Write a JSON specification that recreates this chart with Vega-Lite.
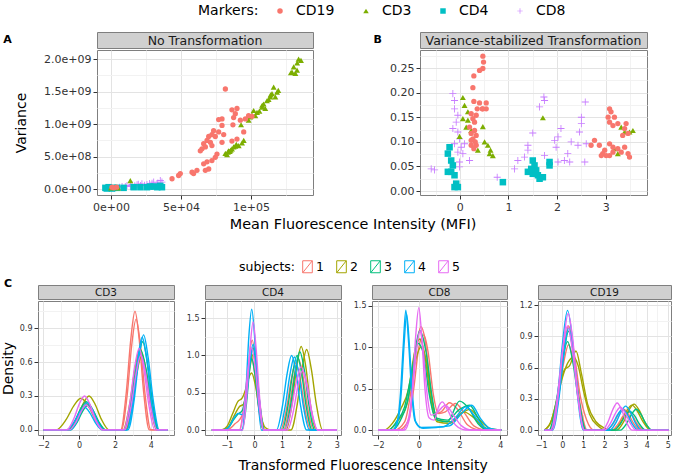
{
"$schema": "https://vega.github.io/schema/vega-lite/v6.json",
"padding": {"left": 0, "top": 4, "right": 0, "bottom": 0},
"config": {
  "font": "DejaVu Sans",
  "view": {"stroke": "#7F7F7F"},
  "axis": {"domain": false, "gridColor": "#E3E3E3", "tickColor": "#333333", "tickSize": 4, "labelColor": "#333333", "labelFontSize": 11, "labelPadding": 2, "labelOverlap": false, "titleFontWeight": "normal", "titleColor": "#000000", "titleFontSize": 14},
  "legend": {"titleFontWeight": "normal", "titleColor": "#000000", "labelColor": "#000000"},
  "title": {"fontWeight": "normal", "color": "#000000"}
},
"datasets": {
"sa": [
{"m":"CD8","x":7900,"y":4.0e7},{"m":"CD8","x":11400,"y":5.6e7},{"m":"CD8","x":15000,"y":7.2e7},{"m":"CD8","x":18600,"y":6.7e7},{"m":"CD8","x":22100,"y":8.2e7},{"m":"CD8","x":25700,"y":7.2e7},{"m":"CD8","x":29300,"y":9.2e7},{"m":"CD8","x":32900,"y":8.2e7},{"m":"CD8","x":35200,"y":1.33e8},{"m":"CD8","x":36400,"y":1.08e8},{"m":"CD8","x":30500,"y":1.08e8},{"m":"CD8","x":21000,"y":5.6e7},{"m":"CD8","x":13800,"y":4.0e7},{"m":"CD8","x":10200,"y":4.0e7},{"m":"CD8","x":6000,"y":3.0e7},{"m":"CD8","x":17000,"y":5.0e7},{"m":"CD8","x":24000,"y":6.0e7},{"m":"CD8","x":27500,"y":8.5e7},{"m":"CD8","x":33500,"y":9.5e7},{"m":"CD8","x":19500,"y":7.5e7},
{"m":"CD4","x":-4000,"y":2.0e7},{"m":"CD4","x":-1700,"y":3.0e7},{"m":"CD4","x":700,"y":1.0e7},{"m":"CD4","x":4300,"y":2.0e7},{"m":"CD4","x":9000,"y":2.0e7},{"m":"CD4","x":16200,"y":3.0e7},{"m":"CD4","x":21000,"y":3.0e7},{"m":"CD4","x":25700,"y":3.0e7},{"m":"CD4","x":30500,"y":4.0e7},{"m":"CD4","x":35200,"y":5.0e7},{"m":"CD4","x":36400,"y":3.0e7},{"m":"CD4","x":-3000,"y":1.0e7},{"m":"CD4","x":1500,"y":2.0e7},{"m":"CD4","x":28000,"y":4.0e7},{"m":"CD4","x":33000,"y":3.0e7},
{"m":"CD3","x":134000,"y":2.0e9},{"m":"CD3","x":135700,"y":1.98e9},{"m":"CD3","x":130500,"y":1.88e9},{"m":"CD3","x":132900,"y":1.83e9},{"m":"CD3","x":129300,"y":1.80e9},{"m":"CD3","x":131700,"y":1.78e9},{"m":"CD3","x":133000,"y":1.94e9},{"m":"CD3","x":128500,"y":1.79e9},
{"m":"CD3","x":116200,"y":1.57e9},{"m":"CD3","x":118600,"y":1.49e9},{"m":"CD3","x":115000,"y":1.47e9},{"m":"CD3","x":113800,"y":1.42e9},{"m":"CD3","x":111400,"y":1.36e9},{"m":"CD3","x":109000,"y":1.31e9},{"m":"CD3","x":107900,"y":1.26e9},{"m":"CD3","x":104300,"y":1.18e9},{"m":"CD3","x":101900,"y":1.21e9},{"m":"CD3","x":103100,"y":1.13e9},{"m":"CD3","x":99500,"y":1.11e9},{"m":"CD3","x":98300,"y":1.06e9},{"m":"CD3","x":92900,"y":0.99e9},{"m":"CD3","x":110200,"y":1.24e9},{"m":"CD3","x":117400,"y":1.42e9},{"m":"CD3","x":106000,"y":1.2e9},{"m":"CD3","x":112600,"y":1.38e9},{"m":"CD3","x":114000,"y":1.45e9},{"m":"CD3","x":119500,"y":1.52e9},{"m":"CD3","x":100700,"y":1.14e9},{"m":"CD3","x":108000,"y":1.29e9},
{"m":"CD3","x":81700,"y":0.55e9},{"m":"CD3","x":84000,"y":0.59e9},{"m":"CD3","x":86400,"y":0.62e9},{"m":"CD3","x":88800,"y":0.66e9},{"m":"CD3","x":91200,"y":0.67e9},{"m":"CD3","x":93600,"y":0.71e9},{"m":"CD3","x":94800,"y":0.75e9},{"m":"CD3","x":84800,"y":0.58e9},{"m":"CD3","x":87600,"y":0.65e9},{"m":"CD3","x":82900,"y":0.53e9},{"m":"CD3","x":89500,"y":0.69e9},{"m":"CD3","x":85500,"y":0.6e9},{"m":"CD3","x":83500,"y":0.57e9},
{"m":"CD3","x":13800,"y":1.3e8},{"m":"CD3","x":0,"y":2.0e7},{"m":"CD3","x":3000,"y":3.0e7},{"m":"CD3","x":5000,"y":2.0e7},
{"m":"CD19","x":81700,"y":1.54e9},{"m":"CD19","x":86400,"y":1.22e9},{"m":"CD19","x":90000,"y":1.24e9},{"m":"CD19","x":88800,"y":1.16e9},{"m":"CD19","x":92400,"y":1.06e9},{"m":"CD19","x":87600,"y":1.10e9},{"m":"CD19","x":79300,"y":1.08e9},{"m":"CD19","x":76900,"y":1.07e9},{"m":"CD19","x":87100,"y":0.99e9},{"m":"CD19","x":79300,"y":0.98e9},{"m":"CD19","x":73300,"y":0.90e9},{"m":"CD19","x":72100,"y":0.84e9},{"m":"CD19","x":69800,"y":0.81e9},{"m":"CD19","x":74500,"y":0.81e9},{"m":"CD19","x":68600,"y":0.75e9},{"m":"CD19","x":71000,"y":0.72e9},{"m":"CD19","x":66200,"y":0.70e9},{"m":"CD19","x":67400,"y":0.65e9},{"m":"CD19","x":72100,"y":0.67e9},{"m":"CD19","x":65000,"y":0.62e9},{"m":"CD19","x":63800,"y":0.59e9},{"m":"CD19","x":79300,"y":0.72e9},{"m":"CD19","x":80500,"y":0.84e9},{"m":"CD19","x":90000,"y":0.77e9},{"m":"CD19","x":94800,"y":0.88e9},{"m":"CD19","x":86400,"y":0.74e9},{"m":"CD19","x":75700,"y":0.54e9},{"m":"CD19","x":74500,"y":0.49e9},{"m":"CD19","x":72100,"y":0.44e9},{"m":"CD19","x":68600,"y":0.42e9},{"m":"CD19","x":66200,"y":0.39e9},{"m":"CD19","x":69800,"y":0.31e9},{"m":"CD19","x":67400,"y":0.29e9},{"m":"CD19","x":61400,"y":0.29e9},{"m":"CD19","x":59000,"y":0.24e9},{"m":"CD19","x":57900,"y":0.26e9},{"m":"CD19","x":49500,"y":0.24e9},{"m":"CD19","x":48300,"y":0.21e9},{"m":"CD19","x":43600,"y":0.16e9},{"m":"CD19","x":96000,"y":1.08e9},{"m":"CD19","x":98300,"y":1.13e9},{"m":"CD19","x":100700,"y":1.12e9},{"m":"CD19","x":76900,"y":0.88e9},{"m":"CD19","x":700,"y":3.0e7},{"m":"CD19","x":2000,"y":2.0e7},{"m":"CD19","x":4000,"y":3.0e7}
],
"sb": [
{"m":"CD8","x":-0.59,"y":0.045},{"m":"CD8","x":-0.52,"y":0.043},{"m":"CD8","x":-0.144,"y":0.198},{"m":"CD8","x":-0.11,"y":0.184},{"m":"CD8","x":-0.11,"y":0.167},{"m":"CD8","x":-0.041,"y":0.154},{"m":"CD8","x":-0.075,"y":0.14},{"m":"CD8","x":-0.144,"y":0.127},{"m":"CD8","x":-0.041,"y":0.12},{"m":"CD8","x":-0.007,"y":0.106},{"m":"CD8","x":-0.11,"y":0.096},{"m":"CD8","x":0.028,"y":0.089},{"m":"CD8","x":-0.041,"y":0.079},{"m":"CD8","x":0.062,"y":0.076},{"m":"CD8","x":0.199,"y":0.062},{"m":"CD8","x":-0.007,"y":0.059},{"m":"CD8","x":-0.007,"y":0.049},{"m":"CD8","x":0.096,"y":0.096},{"m":"CD8","x":1.729,"y":0.191},{"m":"CD8","x":1.742,"y":0.184},{"m":"CD8","x":1.64,"y":0.171},{"m":"CD8","x":1.5,"y":0.118},{"m":"CD8","x":0.768,"y":0.028},{"m":"CD8","x":1.125,"y":0.045},{"m":"CD8","x":1.193,"y":0.062},{"m":"CD8","x":1.4,"y":0.093},{"m":"CD8","x":1.4,"y":0.083},{"m":"CD8","x":1.742,"y":0.072},{"m":"CD8","x":1.95,"y":0.103},{"m":"CD8","x":2.02,"y":0.11},{"m":"CD8","x":2.08,"y":0.127},{"m":"CD8","x":1.98,"y":0.089},{"m":"CD8","x":2.22,"y":0.076},{"m":"CD8","x":2.29,"y":0.1},{"m":"CD8","x":2.43,"y":0.093},{"m":"CD8","x":2.46,"y":0.12},{"m":"CD8","x":2.5,"y":0.137},{"m":"CD8","x":2.5,"y":0.15},{"m":"CD8","x":2.58,"y":0.181},{"m":"CD8","x":2.57,"y":0.059},{"m":"CD8","x":2.6,"y":0.096},{"m":"CD8","x":2.26,"y":0.059},{"m":"CD8","x":2.15,"y":0.062},{"m":"CD8","x":2.02,"y":0.059},{"m":"CD8","x":1.33,"y":0.069},
{"m":"CD4","x":-0.212,"y":0.089},{"m":"CD4","x":-0.247,"y":0.076},{"m":"CD4","x":-0.178,"y":0.062},{"m":"CD4","x":-0.144,"y":0.052},{"m":"CD4","x":-0.178,"y":0.039},{"m":"CD4","x":-0.247,"y":0.039},{"m":"CD4","x":-0.11,"y":0.032},{"m":"CD4","x":-0.075,"y":0.015},{"m":"CD4","x":-0.11,"y":0.008},{"m":"CD4","x":-0.041,"y":0.008},{"m":"CD4","x":0.885,"y":0.018},{"m":"CD4","x":1.5,"y":0.062},{"m":"CD4","x":1.4,"y":0.039},{"m":"CD4","x":1.5,"y":0.035},{"m":"CD4","x":1.605,"y":0.032},{"m":"CD4","x":1.708,"y":0.028},{"m":"CD4","x":1.845,"y":0.052},{"m":"CD4","x":1.57,"y":0.042},{"m":"CD4","x":1.64,"y":0.025},{"m":"CD4","x":1.468,"y":0.045},{"m":"CD4","x":1.845,"y":0.059},{"m":"CD4","x":1.536,"y":0.052},
{"m":"CD3","x":0.062,"y":0.19},{"m":"CD3","x":0.096,"y":0.174},{"m":"CD3","x":0.165,"y":0.161},{"m":"CD3","x":0.062,"y":0.147},{"m":"CD3","x":0.165,"y":0.144},{"m":"CD3","x":0.131,"y":0.13},{"m":"CD3","x":-0.007,"y":0.111},{"m":"CD3","x":0.233,"y":0.123},{"m":"CD3","x":0.473,"y":0.131},{"m":"CD3","x":0.508,"y":0.1},{"m":"CD3","x":0.576,"y":0.093},{"m":"CD3","x":0.631,"y":0.083},{"m":"CD3","x":0.679,"y":0.072},{"m":"CD3","x":0.611,"y":0.076},{"m":"CD3","x":0.37,"y":0.083},{"m":"CD3","x":1.708,"y":0.149},{"m":"CD3","x":3.18,"y":0.086},{"m":"CD3","x":3.25,"y":0.076},{"m":"CD3","x":3.39,"y":0.12},{"m":"CD3","x":3.49,"y":0.12},{"m":"CD3","x":3.56,"y":0.123},{"m":"CD3","x":3.32,"y":0.13},
{"m":"CD19","x":0.473,"y":0.274},{"m":"CD19","x":0.487,"y":0.262},{"m":"CD19","x":0.473,"y":0.249},{"m":"CD19","x":0.405,"y":0.245},{"m":"CD19","x":0.288,"y":0.234},{"m":"CD19","x":0.268,"y":0.21},{"m":"CD19","x":0.288,"y":0.182},{"m":"CD19","x":0.405,"y":0.179},{"m":"CD19","x":0.542,"y":0.179},{"m":"CD19","x":0.542,"y":0.167},{"m":"CD19","x":0.46,"y":0.167},{"m":"CD19","x":0.357,"y":0.167},{"m":"CD19","x":0.233,"y":0.157},{"m":"CD19","x":0.336,"y":0.154},{"m":"CD19","x":0.268,"y":0.147},{"m":"CD19","x":0.302,"y":0.14},{"m":"CD19","x":0.199,"y":0.13},{"m":"CD19","x":0.302,"y":0.123},{"m":"CD19","x":0.233,"y":0.117},{"m":"CD19","x":0.336,"y":0.113},{"m":"CD19","x":0.268,"y":0.106},{"m":"CD19","x":0.316,"y":0.1},{"m":"CD19","x":0.233,"y":0.093},{"m":"CD19","x":0.288,"y":0.086},{"m":"CD19","x":0.233,"y":0.103},{"m":"CD19","x":0.336,"y":0.093},{"m":"CD19","x":0.473,"y":0.167},
{"m":"CD19","x":3.08,"y":0.167},{"m":"CD19","x":3.11,"y":0.161},{"m":"CD19","x":3.05,"y":0.15},{"m":"CD19","x":3.18,"y":0.15},{"m":"CD19","x":3.08,"y":0.14},{"m":"CD19","x":3.15,"y":0.133},{"m":"CD19","x":3.25,"y":0.137},{"m":"CD19","x":3.42,"y":0.137},{"m":"CD19","x":3.39,"y":0.127},{"m":"CD19","x":3.46,"y":0.117},{"m":"CD19","x":3.35,"y":0.113},{"m":"CD19","x":2.77,"y":0.103},{"m":"CD19","x":2.7,"y":0.093},{"m":"CD19","x":2.87,"y":0.093},{"m":"CD19","x":2.98,"y":0.083},{"m":"CD19","x":3.08,"y":0.096},{"m":"CD19","x":3.15,"y":0.089},{"m":"CD19","x":3.25,"y":0.086},{"m":"CD19","x":3.39,"y":0.089},{"m":"CD19","x":2.94,"y":0.076},{"m":"CD19","x":3.08,"y":0.072},{"m":"CD19","x":3.15,"y":0.079},{"m":"CD19","x":3.46,"y":0.076},{"m":"CD19","x":3.49,"y":0.069},{"m":"CD19","x":3.32,"y":0.079},{"m":"CD19","x":2.91,"y":0.072},{"m":"CD19","x":3.01,"y":0.072}
],
"d3": [
{"s":"1","c":"a","x":-2.0,"y":0},{"s":"1","c":"a","x":-0.6,"y":0},{"s":"1","c":"a","x":-0.22,"y":0.078},{"s":"1","c":"a","x":0.07,"y":0.181},{"s":"1","c":"a","x":0.35,"y":0.24},{"s":"1","c":"a","x":0.64,"y":0.181},{"s":"1","c":"a","x":0.92,"y":0.078},{"s":"1","c":"a","x":1.3,"y":0},{"s":"1","c":"a","x":2.32,"y":0},{"s":"1","c":"a","x":2.64,"y":0.341},{"s":"1","c":"a","x":2.88,"y":0.793},{"s":"1","c":"a","x":3.12,"y":1.05},{"s":"1","c":"a","x":3.36,"y":0.793},{"s":"1","c":"a","x":3.6,"y":0.341},{"s":"1","c":"a","x":3.92,"y":0},{"s":"1","c":"a","x":4.95,"y":0},
{"s":"1","c":"b","x":-2.0,"y":0},{"s":"1","c":"b","x":-0.55,"y":0},{"s":"1","c":"b","x":-0.15,"y":0.072},{"s":"1","c":"b","x":0.15,"y":0.166},{"s":"1","c":"b","x":0.45,"y":0.22},{"s":"1","c":"b","x":0.75,"y":0.166},{"s":"1","c":"b","x":1.05,"y":0.072},{"s":"1","c":"b","x":1.45,"y":0},{"s":"1","c":"b","x":2.36,"y":0},{"s":"1","c":"b","x":2.69,"y":0.319},{"s":"1","c":"b","x":2.93,"y":0.74},{"s":"1","c":"b","x":3.18,"y":0.98},{"s":"1","c":"b","x":3.43,"y":0.74},{"s":"1","c":"b","x":3.68,"y":0.319},{"s":"1","c":"b","x":4.01,"y":0},{"s":"1","c":"b","x":4.95,"y":0},
{"s":"2","c":"a","x":-2.0,"y":0},{"s":"2","c":"a","x":-1.28,"y":0},{"s":"2","c":"a","x":-0.73,"y":0.091},{"s":"2","c":"a","x":-0.31,"y":0.211},{"s":"2","c":"a","x":0.1,"y":0.28},{"s":"2","c":"a","x":0.51,"y":0.211},{"s":"2","c":"a","x":0.93,"y":0.091},{"s":"2","c":"a","x":1.48,"y":0},{"s":"2","c":"a","x":2.45,"y":0},{"s":"2","c":"a","x":2.83,"y":0.234},{"s":"2","c":"a","x":3.12,"y":0.544},{"s":"2","c":"a","x":3.4,"y":0.72},{"s":"2","c":"a","x":3.69,"y":0.544},{"s":"2","c":"a","x":3.97,"y":0.234},{"s":"2","c":"a","x":4.35,"y":0},{"s":"2","c":"a","x":4.95,"y":0},
{"s":"2","c":"b","x":-2.0,"y":0},{"s":"2","c":"b","x":-0.58,"y":0},{"s":"2","c":"b","x":-0.13,"y":0.098},{"s":"2","c":"b","x":0.21,"y":0.227},{"s":"2","c":"b","x":0.55,"y":0.3},{"s":"2","c":"b","x":0.89,"y":0.227},{"s":"2","c":"b","x":1.23,"y":0.098},{"s":"2","c":"b","x":1.68,"y":0},{"s":"2","c":"b","x":2.58,"y":0},{"s":"2","c":"b","x":2.95,"y":0.215},{"s":"2","c":"b","x":3.22,"y":0.498},{"s":"2","c":"b","x":3.5,"y":0.66},{"s":"2","c":"b","x":3.78,"y":0.498},{"s":"2","c":"b","x":4.06,"y":0.215},{"s":"2","c":"b","x":4.43,"y":0},{"s":"2","c":"b","x":4.95,"y":0},
{"s":"3","c":"a","x":-2.0,"y":0},{"s":"3","c":"a","x":-0.65,"y":0},{"s":"3","c":"a","x":-0.23,"y":0.081},{"s":"3","c":"a","x":0.09,"y":0.189},{"s":"3","c":"a","x":0.4,"y":0.25},{"s":"3","c":"a","x":0.72,"y":0.189},{"s":"3","c":"a","x":1.03,"y":0.081},{"s":"3","c":"a","x":1.45,"y":0},{"s":"3","c":"a","x":2.65,"y":0},{"s":"3","c":"a","x":3.01,"y":0.254},{"s":"3","c":"a","x":3.28,"y":0.589},{"s":"3","c":"a","x":3.55,"y":0.78},{"s":"3","c":"a","x":3.82,"y":0.589},{"s":"3","c":"a","x":4.09,"y":0.254},{"s":"3","c":"a","x":4.45,"y":0},{"s":"3","c":"a","x":4.95,"y":0},
{"s":"3","c":"b","x":-2.0,"y":0},{"s":"3","c":"b","x":-0.5,"y":0},{"s":"3","c":"b","x":-0.1,"y":0.072},{"s":"3","c":"b","x":0.2,"y":0.166},{"s":"3","c":"b","x":0.5,"y":0.22},{"s":"3","c":"b","x":0.8,"y":0.166},{"s":"3","c":"b","x":1.1,"y":0.072},{"s":"3","c":"b","x":1.5,"y":0},{"s":"3","c":"b","x":2.5,"y":0},{"s":"3","c":"b","x":2.88,"y":0.228},{"s":"3","c":"b","x":3.17,"y":0.529},{"s":"3","c":"b","x":3.45,"y":0.7},{"s":"3","c":"b","x":3.74,"y":0.529},{"s":"3","c":"b","x":4.02,"y":0.228},{"s":"3","c":"b","x":4.4,"y":0},{"s":"3","c":"b","x":4.95,"y":0},
{"s":"4","c":"a","x":-2.0,"y":0},{"s":"4","c":"a","x":-0.5,"y":0},{"s":"4","c":"a","x":-0.12,"y":0.078},{"s":"4","c":"a","x":0.17,"y":0.181},{"s":"4","c":"a","x":0.45,"y":0.24},{"s":"4","c":"a","x":0.74,"y":0.181},{"s":"4","c":"a","x":1.02,"y":0.078},{"s":"4","c":"a","x":1.4,"y":0},{"s":"4","c":"a","x":2.73,"y":0},{"s":"4","c":"a","x":3.08,"y":0.273},{"s":"4","c":"a","x":3.34,"y":0.634},{"s":"4","c":"a","x":3.6,"y":0.84},{"s":"4","c":"a","x":3.86,"y":0.634},{"s":"4","c":"a","x":4.13,"y":0.273},{"s":"4","c":"a","x":4.48,"y":0},{"s":"4","c":"a","x":4.95,"y":0},
{"s":"4","c":"b","x":-2.0,"y":0},{"s":"4","c":"b","x":-0.7,"y":0},{"s":"4","c":"b","x":-0.3,"y":0.065},{"s":"4","c":"b","x":0.0,"y":0.151},{"s":"4","c":"b","x":0.3,"y":0.2},{"s":"4","c":"b","x":0.6,"y":0.151},{"s":"4","c":"b","x":0.9,"y":0.065},{"s":"4","c":"b","x":1.3,"y":0},{"s":"4","c":"b","x":2.67,"y":0},{"s":"4","c":"b","x":3.01,"y":0.267},{"s":"4","c":"b","x":3.27,"y":0.619},{"s":"4","c":"b","x":3.52,"y":0.82},{"s":"4","c":"b","x":3.78,"y":0.619},{"s":"4","c":"b","x":4.03,"y":0.267},{"s":"4","c":"b","x":4.37,"y":0},{"s":"4","c":"b","x":4.95,"y":0},
{"s":"5","c":"a","x":-2.0,"y":0},{"s":"5","c":"a","x":-0.7,"y":0},{"s":"5","c":"a","x":-0.3,"y":0.098},{"s":"5","c":"a","x":0.0,"y":0.227},{"s":"5","c":"a","x":0.3,"y":0.3},{"s":"5","c":"a","x":0.6,"y":0.227},{"s":"5","c":"a","x":0.9,"y":0.098},{"s":"5","c":"a","x":1.3,"y":0},{"s":"5","c":"a","x":2.48,"y":0},{"s":"5","c":"a","x":2.83,"y":0.234},{"s":"5","c":"a","x":3.09,"y":0.544},{"s":"5","c":"a","x":3.35,"y":0.72},{"s":"5","c":"a","x":3.61,"y":0.544},{"s":"5","c":"a","x":3.88,"y":0.234},{"s":"5","c":"a","x":4.23,"y":0},{"s":"5","c":"a","x":4.95,"y":0},
{"s":"5","c":"b","x":-2.0,"y":0},{"s":"5","c":"b","x":-0.55,"y":0},{"s":"5","c":"b","x":-0.17,"y":0.072},{"s":"5","c":"b","x":0.12,"y":0.166},{"s":"5","c":"b","x":0.4,"y":0.22},{"s":"5","c":"b","x":0.69,"y":0.166},{"s":"5","c":"b","x":0.97,"y":0.072},{"s":"5","c":"b","x":1.35,"y":0},{"s":"5","c":"b","x":2.55,"y":0},{"s":"5","c":"b","x":2.91,"y":0.215},{"s":"5","c":"b","x":3.18,"y":0.498},{"s":"5","c":"b","x":3.45,"y":0.66},{"s":"5","c":"b","x":3.72,"y":0.498},{"s":"5","c":"b","x":3.99,"y":0.215},{"s":"5","c":"b","x":4.35,"y":0},{"s":"5","c":"b","x":4.95,"y":0}
],
"d4": [
{"s":"1","c":"a","x":-1.55,"y":0},{"s":"1","c":"a","x":-1.1,"y":0},{"s":"1","c":"a","x":-0.9,"y":0.018},{"s":"1","c":"a","x":-0.7,"y":0.086},{"s":"1","c":"a","x":-0.55,"y":0.136},{"s":"1","c":"a","x":-0.4,"y":0.247},{"s":"1","c":"a","x":-0.26,"y":0.67},{"s":"1","c":"a","x":-0.14,"y":1.127},{"s":"1","c":"a","x":-0.08,"y":1.205},{"s":"1","c":"a","x":0.04,"y":0.906},{"s":"1","c":"a","x":0.16,"y":0.39},{"s":"1","c":"a","x":0.32,"y":0},{"s":"1","c":"a","x":1.05,"y":0},{"s":"1","c":"a","x":1.27,"y":0.309},{"s":"1","c":"a","x":1.44,"y":0.717},{"s":"1","c":"a","x":1.6,"y":0.95},{"s":"1","c":"a","x":1.77,"y":0.717},{"s":"1","c":"a","x":1.93,"y":0.309},{"s":"1","c":"a","x":2.15,"y":0},{"s":"1","c":"a","x":3.0,"y":0},
{"s":"1","c":"b","x":-1.55,"y":0},{"s":"1","c":"b","x":-0.55,"y":0},{"s":"1","c":"b","x":-0.38,"y":0.325},{"s":"1","c":"b","x":-0.25,"y":0.755},{"s":"1","c":"b","x":-0.12,"y":1.0},{"s":"1","c":"b","x":0.01,"y":0.755},{"s":"1","c":"b","x":0.14,"y":0.325},{"s":"1","c":"b","x":0.31,"y":0},{"s":"1","c":"b","x":0.95,"y":0},{"s":"1","c":"b","x":1.17,"y":0.293},{"s":"1","c":"b","x":1.34,"y":0.68},{"s":"1","c":"b","x":1.5,"y":0.9},{"s":"1","c":"b","x":1.67,"y":0.68},{"s":"1","c":"b","x":1.83,"y":0.293},{"s":"1","c":"b","x":2.05,"y":0},{"s":"1","c":"b","x":3.0,"y":0},
{"s":"2","c":"a","x":-1.55,"y":0},{"s":"2","c":"a","x":-1.2,"y":0},{"s":"2","c":"a","x":-1.0,"y":0.047},{"s":"2","c":"a","x":-0.8,"y":0.214},{"s":"2","c":"a","x":-0.6,"y":0.383},{"s":"2","c":"a","x":-0.45,"y":0.426},{"s":"2","c":"a","x":-0.3,"y":0.569},{"s":"2","c":"a","x":-0.2,"y":0.709},{"s":"2","c":"a","x":-0.1,"y":0.765},{"s":"2","c":"a","x":0.05,"y":0.568},{"s":"2","c":"a","x":0.2,"y":0.244},{"s":"2","c":"a","x":0.4,"y":0.03},{"s":"2","c":"a","x":0.6,"y":0},{"s":"2","c":"a","x":1.33,"y":0},{"s":"2","c":"a","x":1.56,"y":0.351},{"s":"2","c":"a","x":1.73,"y":0.815},{"s":"2","c":"a","x":1.9,"y":1.08},{"s":"2","c":"a","x":2.07,"y":0.815},{"s":"2","c":"a","x":2.25,"y":0.351},{"s":"2","c":"a","x":2.48,"y":0},{"s":"2","c":"a","x":3.0,"y":0},
{"s":"2","c":"b","x":-1.55,"y":0},{"s":"2","c":"b","x":-1.15,"y":0},{"s":"2","c":"b","x":-0.95,"y":0.041},{"s":"2","c":"b","x":-0.75,"y":0.182},{"s":"2","c":"b","x":-0.55,"y":0.313},{"s":"2","c":"b","x":-0.4,"y":0.346},{"s":"2","c":"b","x":-0.3,"y":0.476},{"s":"2","c":"b","x":-0.18,"y":0.8},{"s":"2","c":"b","x":-0.05,"y":1.013},{"s":"2","c":"b","x":0.08,"y":0.746},{"s":"2","c":"b","x":0.2,"y":0.339},{"s":"2","c":"b","x":0.38,"y":0},{"s":"2","c":"b","x":1.15,"y":0},{"s":"2","c":"b","x":1.37,"y":0.364},{"s":"2","c":"b","x":1.54,"y":0.846},{"s":"2","c":"b","x":1.7,"y":1.12},{"s":"2","c":"b","x":1.87,"y":0.846},{"s":"2","c":"b","x":2.03,"y":0.364},{"s":"2","c":"b","x":2.25,"y":0},{"s":"2","c":"b","x":3.0,"y":0},
{"s":"3","c":"a","x":-1.55,"y":0},{"s":"3","c":"a","x":-0.45,"y":0},{"s":"3","c":"a","x":-0.29,"y":0.358},{"s":"3","c":"a","x":-0.17,"y":0.831},{"s":"3","c":"a","x":-0.05,"y":1.1},{"s":"3","c":"a","x":0.07,"y":0.831},{"s":"3","c":"a","x":0.19,"y":0.358},{"s":"3","c":"a","x":0.35,"y":0},{"s":"3","c":"a","x":1.0,"y":0},{"s":"3","c":"a","x":1.22,"y":0.325},{"s":"3","c":"a","x":1.39,"y":0.755},{"s":"3","c":"a","x":1.55,"y":1.0},{"s":"3","c":"a","x":1.72,"y":0.755},{"s":"3","c":"a","x":1.88,"y":0.325},{"s":"3","c":"a","x":2.1,"y":0},{"s":"3","c":"a","x":3.0,"y":0},
{"s":"3","c":"b","x":-1.55,"y":0},{"s":"3","c":"b","x":-1.15,"y":0},{"s":"3","c":"b","x":-0.95,"y":0.03},{"s":"3","c":"b","x":-0.75,"y":0.143},{"s":"3","c":"b","x":-0.6,"y":0.213},{"s":"3","c":"b","x":-0.45,"y":0.256},{"s":"3","c":"b","x":-0.3,"y":0.525},{"s":"3","c":"b","x":-0.18,"y":0.863},{"s":"3","c":"b","x":-0.1,"y":0.955},{"s":"3","c":"b","x":0.03,"y":0.709},{"s":"3","c":"b","x":0.155,"y":0.309},{"s":"3","c":"b","x":0.33,"y":0},{"s":"3","c":"b","x":1.1,"y":0},{"s":"3","c":"b","x":1.32,"y":0.341},{"s":"3","c":"b","x":1.49,"y":0.793},{"s":"3","c":"b","x":1.65,"y":1.05},{"s":"3","c":"b","x":1.82,"y":0.793},{"s":"3","c":"b","x":1.98,"y":0.341},{"s":"3","c":"b","x":2.2,"y":0},{"s":"3","c":"b","x":3.0,"y":0},
{"s":"4","c":"a","x":-1.55,"y":0},{"s":"4","c":"a","x":-0.45,"y":0},{"s":"4","c":"a","x":-0.31,"y":0.527},{"s":"4","c":"a","x":-0.21,"y":1.223},{"s":"4","c":"a","x":-0.1,"y":1.62},{"s":"4","c":"a","x":0.01,"y":1.223},{"s":"4","c":"a","x":0.11,"y":0.527},{"s":"4","c":"a","x":0.25,"y":0},{"s":"4","c":"a","x":0.8,"y":0},{"s":"4","c":"a","x":1.02,"y":0.325},{"s":"4","c":"a","x":1.19,"y":0.755},{"s":"4","c":"a","x":1.35,"y":1.0},{"s":"4","c":"a","x":1.52,"y":0.755},{"s":"4","c":"a","x":1.68,"y":0.325},{"s":"4","c":"a","x":1.9,"y":0},{"s":"4","c":"a","x":3.0,"y":0},
{"s":"4","c":"b","x":-1.55,"y":0},{"s":"4","c":"b","x":-1.15,"y":0},{"s":"4","c":"b","x":-0.95,"y":0.033},{"s":"4","c":"b","x":-0.75,"y":0.156},{"s":"4","c":"b","x":-0.6,"y":0.223},{"s":"4","c":"b","x":-0.45,"y":0.206},{"s":"4","c":"b","x":-0.32,"y":0.341},{"s":"4","c":"b","x":-0.17,"y":0.881},{"s":"4","c":"b","x":-0.05,"y":1.15},{"s":"4","c":"b","x":0.07,"y":0.868},{"s":"4","c":"b","x":0.19,"y":0.374},{"s":"4","c":"b","x":0.35,"y":0},{"s":"4","c":"b","x":0.9,"y":0},{"s":"4","c":"b","x":1.12,"y":0.319},{"s":"4","c":"b","x":1.29,"y":0.74},{"s":"4","c":"b","x":1.45,"y":0.98},{"s":"4","c":"b","x":1.62,"y":0.74},{"s":"4","c":"b","x":1.78,"y":0.319},{"s":"4","c":"b","x":2.0,"y":0},{"s":"4","c":"b","x":3.0,"y":0},
{"s":"5","c":"a","x":-1.55,"y":0},{"s":"5","c":"a","x":-0.43,"y":0},{"s":"5","c":"a","x":-0.28,"y":0.471},{"s":"5","c":"a","x":-0.16,"y":1.095},{"s":"5","c":"a","x":-0.05,"y":1.45},{"s":"5","c":"a","x":0.06,"y":1.095},{"s":"5","c":"a","x":0.18,"y":0.471},{"s":"5","c":"a","x":0.33,"y":0},{"s":"5","c":"a","x":1.1,"y":0},{"s":"5","c":"a","x":1.34,"y":0.276},{"s":"5","c":"a","x":1.52,"y":0.642},{"s":"5","c":"a","x":1.7,"y":0.85},{"s":"5","c":"a","x":1.88,"y":0.642},{"s":"5","c":"a","x":2.06,"y":0.276},{"s":"5","c":"a","x":2.3,"y":0},{"s":"5","c":"a","x":3.0,"y":0},
{"s":"5","c":"b","x":-1.55,"y":0},{"s":"5","c":"b","x":-0.53,"y":0},{"s":"5","c":"b","x":-0.36,"y":0.358},{"s":"5","c":"b","x":-0.23,"y":0.831},{"s":"5","c":"b","x":-0.1,"y":1.1},{"s":"5","c":"b","x":0.03,"y":0.831},{"s":"5","c":"b","x":0.16,"y":0.358},{"s":"5","c":"b","x":0.33,"y":0},{"s":"5","c":"b","x":1.2,"y":0},{"s":"5","c":"b","x":1.42,"y":0.26},{"s":"5","c":"b","x":1.59,"y":0.604},{"s":"5","c":"b","x":1.75,"y":0.8},{"s":"5","c":"b","x":1.92,"y":0.604},{"s":"5","c":"b","x":2.08,"y":0.26},{"s":"5","c":"b","x":2.3,"y":0},{"s":"5","c":"b","x":3.0,"y":0}
],
"d8": [
{"s":"1","c":"a","x":-2.0,"y":0},{"s":"1","c":"a","x":-1.2,"y":0},{"s":"1","c":"a","x":-0.7,"y":0.1},{"s":"1","c":"a","x":-0.4,"y":0.45},{"s":"1","c":"a","x":-0.15,"y":0.95},{"s":"1","c":"a","x":0.1,"y":1.25},{"s":"1","c":"a","x":0.3,"y":1.1},{"s":"1","c":"a","x":0.55,"y":0.55},{"s":"1","c":"a","x":0.8,"y":0.2},{"s":"1","c":"a","x":1.1,"y":0.22},{"s":"1","c":"a","x":1.5,"y":0.33},{"s":"1","c":"a","x":1.9,"y":0.25},{"s":"1","c":"a","x":2.4,"y":0.06},{"s":"1","c":"a","x":3.0,"y":0},{"s":"1","c":"a","x":4.05,"y":0},
{"s":"1","c":"b","x":-2.0,"y":0},{"s":"1","c":"b","x":-1.0,"y":0},{"s":"1","c":"b","x":-0.5,"y":0.12},{"s":"1","c":"b","x":-0.25,"y":0.5},{"s":"1","c":"b","x":0.0,"y":1.0},{"s":"1","c":"b","x":0.25,"y":1.15},{"s":"1","c":"b","x":0.45,"y":0.95},{"s":"1","c":"b","x":0.7,"y":0.45},{"s":"1","c":"b","x":0.95,"y":0.2},{"s":"1","c":"b","x":1.3,"y":0.22},{"s":"1","c":"b","x":1.8,"y":0.32},{"s":"1","c":"b","x":2.2,"y":0.22},{"s":"1","c":"b","x":2.7,"y":0.05},{"s":"1","c":"b","x":3.3,"y":0},{"s":"1","c":"b","x":4.05,"y":0},
{"s":"2","c":"a","x":-2.0,"y":0},{"s":"2","c":"a","x":-1.7,"y":0},{"s":"2","c":"a","x":-1.3,"y":0.08},{"s":"2","c":"a","x":-0.9,"y":0.25},{"s":"2","c":"a","x":-0.5,"y":0.5},{"s":"2","c":"a","x":-0.2,"y":0.95},{"s":"2","c":"a","x":0.05,"y":1.1},{"s":"2","c":"a","x":0.3,"y":0.9},{"s":"2","c":"a","x":0.6,"y":0.35},{"s":"2","c":"a","x":0.9,"y":0.1},{"s":"2","c":"a","x":1.5,"y":0.08},{"s":"2","c":"a","x":2.1,"y":0.2},{"s":"2","c":"a","x":2.5,"y":0.25},{"s":"2","c":"a","x":3.0,"y":0.12},{"s":"2","c":"a","x":3.5,"y":0.02},{"s":"2","c":"a","x":4.05,"y":0},
{"s":"2","c":"b","x":-2.0,"y":0},{"s":"2","c":"b","x":-1.5,"y":0},{"s":"2","c":"b","x":-1.0,"y":0.12},{"s":"2","c":"b","x":-0.6,"y":0.3},{"s":"2","c":"b","x":-0.25,"y":0.75},{"s":"2","c":"b","x":0.1,"y":1.0},{"s":"2","c":"b","x":0.35,"y":0.85},{"s":"2","c":"b","x":0.65,"y":0.35},{"s":"2","c":"b","x":0.95,"y":0.12},{"s":"2","c":"b","x":1.6,"y":0.1},{"s":"2","c":"b","x":2.2,"y":0.22},{"s":"2","c":"b","x":2.7,"y":0.15},{"s":"2","c":"b","x":3.2,"y":0.03},{"s":"2","c":"b","x":3.6,"y":0},{"s":"2","c":"b","x":4.05,"y":0},
{"s":"3","c":"a","x":-2.0,"y":0},{"s":"3","c":"a","x":-1.5,"y":0},{"s":"3","c":"a","x":-1.1,"y":0.1},{"s":"3","c":"a","x":-0.7,"y":0.28},{"s":"3","c":"a","x":-0.35,"y":0.7},{"s":"3","c":"a","x":0.05,"y":1.2},{"s":"3","c":"a","x":0.35,"y":0.95},{"s":"3","c":"a","x":0.65,"y":0.4},{"s":"3","c":"a","x":0.9,"y":0.12},{"s":"3","c":"a","x":1.4,"y":0.1},{"s":"3","c":"a","x":2.0,"y":0.35},{"s":"3","c":"a","x":2.4,"y":0.28},{"s":"3","c":"a","x":2.9,"y":0.08},{"s":"3","c":"a","x":3.4,"y":0},{"s":"3","c":"a","x":4.05,"y":0},
{"s":"3","c":"b","x":-2.0,"y":0},{"s":"3","c":"b","x":-1.3,"y":0},{"s":"3","c":"b","x":-0.9,"y":0.12},{"s":"3","c":"b","x":-0.55,"y":0.35},{"s":"3","c":"b","x":-0.25,"y":0.8},{"s":"3","c":"b","x":-0.05,"y":1.05},{"s":"3","c":"b","x":0.2,"y":0.95},{"s":"3","c":"b","x":0.5,"y":0.45},{"s":"3","c":"b","x":0.8,"y":0.15},{"s":"3","c":"b","x":1.4,"y":0.12},{"s":"3","c":"b","x":2.0,"y":0.25},{"s":"3","c":"b","x":2.5,"y":0.3},{"s":"3","c":"b","x":2.9,"y":0.15},{"s":"3","c":"b","x":3.3,"y":0.02},{"s":"3","c":"b","x":4.05,"y":0},
{"s":"4","c":"a","x":-2.0,"y":0},{"s":"4","c":"a","x":-1.3,"y":0},{"s":"4","c":"a","x":-1.05,"y":0.12},{"s":"4","c":"a","x":-0.9,"y":0.45},{"s":"4","c":"a","x":-0.77,"y":1.0},{"s":"4","c":"a","x":-0.64,"y":1.45},{"s":"4","c":"a","x":-0.5,"y":1.05},{"s":"4","c":"a","x":-0.35,"y":0.45},{"s":"4","c":"a","x":-0.2,"y":0.12},{"s":"4","c":"a","x":0.1,"y":0.03},{"s":"4","c":"a","x":1.2,"y":0.04},{"s":"4","c":"a","x":1.8,"y":0.15},{"s":"4","c":"a","x":2.3,"y":0.28},{"s":"4","c":"a","x":2.8,"y":0.15},{"s":"4","c":"a","x":3.3,"y":0.02},{"s":"4","c":"a","x":4.05,"y":0},
{"s":"4","c":"b","x":-2.0,"y":0},{"s":"4","c":"b","x":-1.25,"y":0},{"s":"4","c":"b","x":-1.0,"y":0.14},{"s":"4","c":"b","x":-0.85,"y":0.5},{"s":"4","c":"b","x":-0.72,"y":1.05},{"s":"4","c":"b","x":-0.6,"y":1.4},{"s":"4","c":"b","x":-0.47,"y":1.05},{"s":"4","c":"b","x":-0.32,"y":0.45},{"s":"4","c":"b","x":-0.15,"y":0.1},{"s":"4","c":"b","x":0.2,"y":0.02},{"s":"4","c":"b","x":1.5,"y":0.05},{"s":"4","c":"b","x":2.1,"y":0.2},{"s":"4","c":"b","x":2.6,"y":0.3},{"s":"4","c":"b","x":3.0,"y":0.15},{"s":"4","c":"b","x":3.5,"y":0.02},{"s":"4","c":"b","x":4.05,"y":0},
{"s":"5","c":"a","x":-2.0,"y":0},{"s":"5","c":"a","x":-0.7,"y":0},{"s":"5","c":"a","x":-0.45,"y":0.15},{"s":"5","c":"a","x":-0.3,"y":0.55},{"s":"5","c":"a","x":-0.15,"y":1.15},{"s":"5","c":"a","x":0.0,"y":1.48},{"s":"5","c":"a","x":0.15,"y":1.1},{"s":"5","c":"a","x":0.3,"y":0.5},{"s":"5","c":"a","x":0.5,"y":0.15},{"s":"5","c":"a","x":0.75,"y":0.12},{"s":"5","c":"a","x":1.0,"y":0.3},{"s":"5","c":"a","x":1.15,"y":0.34},{"s":"5","c":"a","x":1.4,"y":0.25},{"s":"5","c":"a","x":1.8,"y":0.06},{"s":"5","c":"a","x":2.3,"y":0},{"s":"5","c":"a","x":4.05,"y":0},
{"s":"5","c":"b","x":-2.0,"y":0},{"s":"5","c":"b","x":-0.8,"y":0},{"s":"5","c":"b","x":-0.5,"y":0.15},{"s":"5","c":"b","x":-0.3,"y":0.5},{"s":"5","c":"b","x":-0.1,"y":1.0},{"s":"5","c":"b","x":0.05,"y":1.2},{"s":"5","c":"b","x":0.2,"y":1.0},{"s":"5","c":"b","x":0.4,"y":0.45},{"s":"5","c":"b","x":0.6,"y":0.18},{"s":"5","c":"b","x":0.85,"y":0.2},{"s":"5","c":"b","x":1.3,"y":0.3},{"s":"5","c":"b","x":1.7,"y":0.18},{"s":"5","c":"b","x":2.1,"y":0.05},{"s":"5","c":"b","x":2.6,"y":0},{"s":"5","c":"b","x":4.05,"y":0}
],
"d19": [
{"s":"1","c":"a","x":-0.85,"y":0},{"s":"1","c":"a","x":-0.53,"y":0},{"s":"1","c":"a","x":-0.2,"y":0.325},{"s":"1","c":"a","x":0.05,"y":0.755},{"s":"1","c":"a","x":0.3,"y":1.0},{"s":"1","c":"a","x":0.55,"y":0.755},{"s":"1","c":"a","x":0.85,"y":0.33},{"s":"1","c":"a","x":1.15,"y":0.1},{"s":"1","c":"a","x":1.5,"y":0},{"s":"1","c":"a","x":2.1,"y":0},{"s":"1","c":"a","x":2.42,"y":0.065},{"s":"1","c":"a","x":2.66,"y":0.151},{"s":"1","c":"a","x":2.9,"y":0.2},{"s":"1","c":"a","x":3.14,"y":0.151},{"s":"1","c":"a","x":3.38,"y":0.065},{"s":"1","c":"a","x":3.7,"y":0},{"s":"1","c":"a","x":5.05,"y":0},
{"s":"1","c":"b","x":-0.85,"y":0},{"s":"1","c":"b","x":-0.58,"y":0},{"s":"1","c":"b","x":-0.23,"y":0.267},{"s":"1","c":"b","x":0.04,"y":0.619},{"s":"1","c":"b","x":0.3,"y":0.82},{"s":"1","c":"b","x":0.56,"y":0.619},{"s":"1","c":"b","x":0.83,"y":0.267},{"s":"1","c":"b","x":1.18,"y":0},{"s":"1","c":"b","x":2.35,"y":0},{"s":"1","c":"b","x":2.65,"y":0.059},{"s":"1","c":"b","x":2.88,"y":0.136},{"s":"1","c":"b","x":3.1,"y":0.18},{"s":"1","c":"b","x":3.33,"y":0.136},{"s":"1","c":"b","x":3.55,"y":0.059},{"s":"1","c":"b","x":3.85,"y":0},{"s":"1","c":"b","x":5.05,"y":0},
{"s":"2","c":"a","x":-0.85,"y":0},{"s":"2","c":"a","x":-0.6,"y":0.05},{"s":"2","c":"a","x":-0.3,"y":0.25},{"s":"2","c":"a","x":0.0,"y":0.5},{"s":"2","c":"a","x":0.3,"y":0.66},{"s":"2","c":"a","x":0.55,"y":0.7},{"s":"2","c":"a","x":0.75,"y":0.62},{"s":"2","c":"a","x":1.0,"y":0.38},{"s":"2","c":"a","x":1.3,"y":0.15},{"s":"2","c":"a","x":1.7,"y":0.04},{"s":"2","c":"a","x":2.1,"y":0},{"s":"2","c":"a","x":2.58,"y":0},{"s":"2","c":"a","x":2.91,"y":0.081},{"s":"2","c":"a","x":3.15,"y":0.189},{"s":"2","c":"a","x":3.4,"y":0.25},{"s":"2","c":"a","x":3.65,"y":0.189},{"s":"2","c":"a","x":3.9,"y":0.081},{"s":"2","c":"a","x":4.23,"y":0},{"s":"2","c":"a","x":5.05,"y":0},
{"s":"2","c":"b","x":-0.85,"y":0},{"s":"2","c":"b","x":-0.5,"y":0.1},{"s":"2","c":"b","x":-0.2,"y":0.35},{"s":"2","c":"b","x":0.1,"y":0.58},{"s":"2","c":"b","x":0.35,"y":0.62},{"s":"2","c":"b","x":0.65,"y":0.76},{"s":"2","c":"b","x":0.9,"y":0.55},{"s":"2","c":"b","x":1.2,"y":0.25},{"s":"2","c":"b","x":1.6,"y":0.08},{"s":"2","c":"b","x":2.0,"y":0.02},{"s":"2","c":"b","x":2.43,"y":0},{"s":"2","c":"b","x":2.78,"y":0.078},{"s":"2","c":"b","x":3.04,"y":0.181},{"s":"2","c":"b","x":3.3,"y":0.24},{"s":"2","c":"b","x":3.56,"y":0.181},{"s":"2","c":"b","x":3.83,"y":0.078},{"s":"2","c":"b","x":4.18,"y":0},{"s":"2","c":"b","x":5.05,"y":0},
{"s":"3","c":"a","x":-0.85,"y":0},{"s":"3","c":"a","x":-0.5,"y":0},{"s":"3","c":"a","x":-0.18,"y":0.309},{"s":"3","c":"a","x":0.06,"y":0.717},{"s":"3","c":"a","x":0.3,"y":0.95},{"s":"3","c":"a","x":0.54,"y":0.717},{"s":"3","c":"a","x":0.78,"y":0.309},{"s":"3","c":"a","x":1.1,"y":0},{"s":"3","c":"a","x":2.45,"y":0},{"s":"3","c":"a","x":2.75,"y":0.059},{"s":"3","c":"a","x":2.98,"y":0.136},{"s":"3","c":"a","x":3.2,"y":0.18},{"s":"3","c":"a","x":3.43,"y":0.136},{"s":"3","c":"a","x":3.65,"y":0.059},{"s":"3","c":"a","x":3.95,"y":0},{"s":"3","c":"a","x":5.05,"y":0},
{"s":"3","c":"b","x":-0.85,"y":0},{"s":"3","c":"b","x":-0.63,"y":0},{"s":"3","c":"b","x":-0.28,"y":0.276},{"s":"3","c":"b","x":-0.01,"y":0.642},{"s":"3","c":"b","x":0.25,"y":0.85},{"s":"3","c":"b","x":0.51,"y":0.642},{"s":"3","c":"b","x":0.78,"y":0.276},{"s":"3","c":"b","x":1.13,"y":0},{"s":"3","c":"b","x":2.75,"y":0},{"s":"3","c":"b","x":3.05,"y":0.065},{"s":"3","c":"b","x":3.28,"y":0.151},{"s":"3","c":"b","x":3.5,"y":0.2},{"s":"3","c":"b","x":3.73,"y":0.151},{"s":"3","c":"b","x":3.95,"y":0.065},{"s":"3","c":"b","x":4.25,"y":0},{"s":"3","c":"b","x":5.05,"y":0},
{"s":"4","c":"a","x":-0.85,"y":0},{"s":"4","c":"a","x":-0.5,"y":0},{"s":"4","c":"a","x":-0.2,"y":0.374},{"s":"4","c":"a","x":0.03,"y":0.868},{"s":"4","c":"a","x":0.25,"y":1.15},{"s":"4","c":"a","x":0.48,"y":0.868},{"s":"4","c":"a","x":0.7,"y":0.374},{"s":"4","c":"a","x":1.0,"y":0},{"s":"4","c":"a","x":2.25,"y":0},{"s":"4","c":"a","x":2.55,"y":0.075},{"s":"4","c":"a","x":2.78,"y":0.174},{"s":"4","c":"a","x":3.0,"y":0.23},{"s":"4","c":"a","x":3.23,"y":0.174},{"s":"4","c":"a","x":3.45,"y":0.075},{"s":"4","c":"a","x":3.75,"y":0},{"s":"4","c":"a","x":5.05,"y":0},
{"s":"4","c":"b","x":-0.85,"y":0},{"s":"4","c":"b","x":-0.45,"y":0},{"s":"4","c":"b","x":-0.15,"y":0.319},{"s":"4","c":"b","x":0.08,"y":0.74},{"s":"4","c":"b","x":0.3,"y":0.98},{"s":"4","c":"b","x":0.53,"y":0.74},{"s":"4","c":"b","x":0.75,"y":0.319},{"s":"4","c":"b","x":1.05,"y":0},{"s":"4","c":"b","x":2.1,"y":0},{"s":"4","c":"b","x":2.4,"y":0.065},{"s":"4","c":"b","x":2.63,"y":0.151},{"s":"4","c":"b","x":2.85,"y":0.2},{"s":"4","c":"b","x":3.08,"y":0.151},{"s":"4","c":"b","x":3.3,"y":0.065},{"s":"4","c":"b","x":3.6,"y":0},{"s":"4","c":"b","x":5.05,"y":0},
{"s":"5","c":"a","x":-0.85,"y":0},{"s":"5","c":"a","x":-0.47,"y":0},{"s":"5","c":"a","x":-0.17,"y":0.364},{"s":"5","c":"a","x":0.06,"y":0.846},{"s":"5","c":"a","x":0.28,"y":1.12},{"s":"5","c":"a","x":0.51,"y":0.846},{"s":"5","c":"a","x":0.73,"y":0.364},{"s":"5","c":"a","x":1.03,"y":0},{"s":"5","c":"a","x":1.9,"y":0},{"s":"5","c":"a","x":2.18,"y":0.085},{"s":"5","c":"a","x":2.39,"y":0.196},{"s":"5","c":"a","x":2.6,"y":0.26},{"s":"5","c":"a","x":2.81,"y":0.196},{"s":"5","c":"a","x":3.02,"y":0.085},{"s":"5","c":"a","x":3.3,"y":0},{"s":"5","c":"a","x":5.05,"y":0},
{"s":"5","c":"b","x":-0.85,"y":0},{"s":"5","c":"b","x":-0.55,"y":0},{"s":"5","c":"b","x":-0.23,"y":0.325},{"s":"5","c":"b","x":0.01,"y":0.755},{"s":"5","c":"b","x":0.25,"y":1.0},{"s":"5","c":"b","x":0.49,"y":0.755},{"s":"5","c":"b","x":0.73,"y":0.325},{"s":"5","c":"b","x":1.05,"y":0},{"s":"5","c":"b","x":2.0,"y":0},{"s":"5","c":"b","x":2.3,"y":0.072},{"s":"5","c":"b","x":2.53,"y":0.166},{"s":"5","c":"b","x":2.75,"y":0.22},{"s":"5","c":"b","x":2.98,"y":0.166},{"s":"5","c":"b","x":3.2,"y":0.072},{"s":"5","c":"b","x":3.5,"y":0},{"s":"5","c":"b","x":5.05,"y":0}
]
},
"vconcat": [
 {
  "hconcat": [
   {"width": 1, "height": 1, "data": {"values": [{}]}, "mark": {"type": "text", "text": ""}, "view": {"stroke": null}},
   {
    "hconcat": [
     {"vconcat": [
       {"width": 216, "height": 16, "title": {"text": "A", "orient": "left", "angle": 0, "align": "center", "baseline": "middle", "fontWeight": "bold", "fontSize": 11, "offset": 81}, "data": {"values": [{"label": "No Transformation"}]}, "mark": {"type": "text", "fontSize": 12.5, "baseline": "middle", "color": "#1A1A1A", "dy": 1}, "encoding": {"text": {"field": "label"}}, "view": {"fill": "#D0D0D0", "stroke": "#7F7F7F"}},
       {"width": 216, "height": 145, "data": {"name": "sa"}, "mark": {"type": "point", "filled": true, "opacity": 1},
        "encoding": {
          "x": {"field": "x", "type": "quantitative", "scale": {"domain": [-10000, 144300], "nice": false, "zero": false}, "axis": {"title": null, "values": [0, 25000, 50000, 75000, 100000, 125000], "labelExpr": "indexof([25000,75000,125000], datum.value) >= 0 ? '' : replace(format(datum.value, '.0e'), 'e+', 'e+0')", "tickOpacity": {"condition": {"test": "indexof([25000,75000,125000], datum.value) >= 0", "value": 0}, "value": 1}, "gridColor": {"condition": {"test": "indexof([25000,75000,125000], datum.value) >= 0", "value": "#F2F2F2"}, "value": "#E3E3E3"}}},
          "y": {"field": "y", "type": "quantitative", "scale": {"domain": [-90000000, 2140000000], "nice": false, "zero": false}, "axis": {"title": "Variance", "titlePadding": 15, "values": [0, 250000000, 500000000, 750000000, 1000000000, 1250000000, 1500000000, 1750000000, 2000000000], "labelExpr": "indexof([250000000,750000000,1250000000,1750000000], datum.value) >= 0 ? '' : replace(format(datum.value, '.1e'), 'e+', 'e+0')", "tickOpacity": {"condition": {"test": "indexof([250000000,750000000,1250000000,1750000000], datum.value) >= 0", "value": 0}, "value": 1}, "gridColor": {"condition": {"test": "indexof([250000000,750000000,1250000000,1750000000], datum.value) >= 0", "value": "#F2F2F2"}, "value": "#E3E3E3"}}},
          "color": {"field": "m", "type": "nominal", "scale": {"domain": ["CD19", "CD3", "CD4", "CD8"], "range": ["#F8766D", "#7CAE00", "#00BFC4", "#C77CFF"]}, "legend": {"title": "Markers:", "orient": "none", "legendX": 101, "legendY": -28, "direction": "horizontal", "titleOrient": "left", "titleFontSize": 14, "labelFontSize": 14, "symbolSize": 30, "titlePadding": 14, "labelOffset": 9, "columnPadding": 24, "symbolOpacity": 1}},
          "shape": {"field": "m", "type": "nominal", "scale": {"domain": ["CD19", "CD3", "CD4", "CD8"], "range": ["circle", "triangle-up", "square", "M-1,-0.12L-0.12,-0.12L-0.12,-1L0.12,-1L0.12,-0.12L1,-0.12L1,0.12L0.12,0.12L0.12,1L-0.12,1L-0.12,0.12L-1,0.12Z"]}, "legend": {"title": "Markers:", "orient": "none", "legendX": 101, "legendY": -28, "direction": "horizontal", "titleOrient": "left", "titleFontSize": 14, "labelFontSize": 14, "symbolSize": 30, "titlePadding": 14, "labelOffset": 9, "columnPadding": 24, "symbolOpacity": 1}},
          "size": {"field": "m", "type": "nominal", "scale": {"domain": ["CD19", "CD3", "CD4", "CD8"], "range": [28, 50, 34, 70]}, "legend": null}
        }}
     ], "spacing": 0},
     {"vconcat": [
       {"width": 227, "height": 16, "title": {"text": "B", "orient": "left", "angle": 0, "align": "center", "baseline": "middle", "fontWeight": "bold", "fontSize": 11, "offset": 34}, "data": {"values": [{"label": "Variance-stabilized Transformation"}]}, "mark": {"type": "text", "fontSize": 12.5, "baseline": "middle", "color": "#1A1A1A", "dy": 1}, "encoding": {"text": {"field": "label"}}, "view": {"fill": "#D0D0D0", "stroke": "#7F7F7F"}},
       {"width": 227, "height": 145, "data": {"name": "sb"}, "mark": {"type": "point", "filled": true, "opacity": 1},
        "encoding": {
          "x": {"field": "x", "type": "quantitative", "scale": {"domain": [-0.82, 3.85], "nice": false, "zero": false}, "axis": {"title": null, "values": [-0.5, 0, 0.5, 1, 1.5, 2, 2.5, 3, 3.5], "labelExpr": "indexof([-0.5,0.5,1.5,2.5,3.5], datum.value) >= 0 ? '' : format(datum.value, 'd')", "tickOpacity": {"condition": {"test": "indexof([-0.5,0.5,1.5,2.5,3.5], datum.value) >= 0", "value": 0}, "value": 1}, "gridColor": {"condition": {"test": "indexof([-0.5,0.5,1.5,2.5,3.5], datum.value) >= 0", "value": "#F2F2F2"}, "value": "#E3E3E3"}}},
          "y": {"field": "y", "type": "quantitative", "scale": {"domain": [-0.0081, 0.2866], "nice": false, "zero": false}, "axis": {"title": null, "values": [0, 0.025, 0.05, 0.075, 0.1, 0.125, 0.15, 0.175, 0.2, 0.225, 0.25, 0.275], "labelExpr": "indexof([0.025,0.075,0.125,0.175,0.225,0.275], datum.value) >= 0 ? '' : format(datum.value, '.2f')", "tickOpacity": {"condition": {"test": "indexof([0.025,0.075,0.125,0.175,0.225,0.275], datum.value) >= 0", "value": 0}, "value": 1}, "gridColor": {"condition": {"test": "indexof([0.025,0.075,0.125,0.175,0.225,0.275], datum.value) >= 0", "value": "#F2F2F2"}, "value": "#E3E3E3"}}},
          "color": {"field": "m", "type": "nominal", "scale": {"domain": ["CD19", "CD3", "CD4", "CD8"], "range": ["#F8766D", "#7CAE00", "#00BFC4", "#C77CFF"]}, "legend": {"title": "Markers:", "orient": "none", "legendX": 101, "legendY": -28, "direction": "horizontal", "titleOrient": "left", "titleFontSize": 14, "labelFontSize": 14, "symbolSize": 30, "titlePadding": 14, "labelOffset": 9, "columnPadding": 24, "symbolOpacity": 1}},
          "shape": {"field": "m", "type": "nominal", "scale": {"domain": ["CD19", "CD3", "CD4", "CD8"], "range": ["circle", "triangle-up", "square", "M-1,-0.12L-0.12,-0.12L-0.12,-1L0.12,-1L0.12,-0.12L1,-0.12L1,0.12L0.12,0.12L0.12,1L-0.12,1L-0.12,0.12L-1,0.12Z"]}, "legend": {"title": "Markers:", "orient": "none", "legendX": 101, "legendY": -28, "direction": "horizontal", "titleOrient": "left", "titleFontSize": 14, "labelFontSize": 14, "symbolSize": 30, "titlePadding": 14, "labelOffset": 9, "columnPadding": 24, "symbolOpacity": 1}},
          "size": {"field": "m", "type": "nominal", "scale": {"domain": ["CD19", "CD3", "CD4", "CD8"], "range": [28, 50, 34, 70]}, "legend": null}
        }}
     ], "spacing": 0}
    ],
    "spacing": 58,
    "title": {"text": "Mean Fluorescence Intensity (MFI)", "orient": "bottom", "anchor": "middle", "fontSize": 14.4, "offset": 5, "dx": 28}
   }
  ],
  "spacing": -37,
  "resolve": {"legend": {"color": "independent", "shape": "independent"}}
 },
 {
  "hconcat": [
   {"vconcat": [
     {"width": 136, "height": 14, "title": {"text": "C", "orient": "left", "angle": 0, "align": "center", "baseline": "middle", "fontWeight": "bold", "fontSize": 11, "offset": 22, "dy": -8}, "data": {"values": [{"label": "CD3"}]}, "mark": {"type": "text", "fontSize": 10.5, "baseline": "middle", "color": "#1A1A1A", "dy": 1}, "encoding": {"text": {"field": "label"}}, "view": {"fill": "#D0D0D0", "stroke": "#7F7F7F"}},
     {"width": 136, "height": 134, "data": {"name": "d3"}, "mark": {"type": "line", "interpolate": "monotone", "strokeWidth": 1.4, "clip": true},
      "encoding": {
        "x": {"field": "x", "type": "quantitative", "scale": {"domain": [-2.3, 5.3], "nice": false, "zero": false}, "axis": {"title": null, "values": [-2, -1, 0, 1, 2, 3, 4, 5], "labelFontSize": 8, "labelExpr": "indexof([-1,1,3,5], datum.value) >= 0 ? '' : format(datum.value, 'd')", "tickOpacity": {"condition": {"test": "indexof([-1,1,3,5], datum.value) >= 0", "value": 0}, "value": 1}, "gridColor": {"condition": {"test": "indexof([-1,1,3,5], datum.value) >= 0", "value": "#F2F2F2"}, "value": "#E3E3E3"}}},
        "y": {"field": "y", "type": "quantitative", "scale": {"domain": [-0.045, 1.14], "nice": false, "zero": false}, "axis": {"title": "Density", "titlePadding": 4, "values": [0, 0.15, 0.3, 0.45, 0.6, 0.75, 0.9, 1.05], "labelFontSize": 8, "labelExpr": "indexof([0.15,0.45,0.75,1.05], datum.value) >= 0 ? '' : format(datum.value, '.1f')", "tickOpacity": {"condition": {"test": "indexof([0.15,0.45,0.75,1.05], datum.value) >= 0", "value": 0}, "value": 1}, "gridColor": {"condition": {"test": "indexof([0.15,0.45,0.75,1.05], datum.value) >= 0", "value": "#F2F2F2"}, "value": "#E3E3E3"}}},
        "color": {"field": "s", "type": "nominal", "scale": {"domain": ["1", "2", "3", "4", "5"], "range": ["#F8766D", "#A3A500", "#00BF7D", "#00B0F6", "#E76BF3"]}, "legend": {"title": "subjects:", "orient": "none", "legendX": 201, "legendY": -25, "direction": "horizontal", "titleOrient": "left", "titleFontSize": 12.5, "labelFontSize": 12.5, "symbolType": "M-0.8,-1L0.8,-1L0.8,1L-0.8,1ZM-0.8,1L0.8,-1", "symbolSize": 144, "symbolStrokeWidth": 1, "symbolFillColor": "transparent", "titlePadding": 5, "labelOffset": 2, "columnPadding": 10}},
        "detail": {"field": "c"}
      }}
   ], "spacing": 0},
   {"vconcat": [
     {"width": 136, "height": 14, "data": {"values": [{"label": "CD4"}]}, "mark": {"type": "text", "fontSize": 10.5, "baseline": "middle", "color": "#1A1A1A", "dy": 1}, "encoding": {"text": {"field": "label"}}, "view": {"fill": "#D0D0D0", "stroke": "#7F7F7F"}},
     {"width": 136, "height": 134, "data": {"name": "d4"}, "mark": {"type": "line", "interpolate": "monotone", "strokeWidth": 1.4, "clip": true},
      "encoding": {
        "x": {"field": "x", "type": "quantitative", "scale": {"domain": [-1.8, 3.15], "nice": false, "zero": false}, "axis": {"title": null, "values": [-1.5, -1, -0.5, 0, 0.5, 1, 1.5, 2, 2.5, 3], "labelFontSize": 8, "labelExpr": "indexof([-1.5,-0.5,0.5,1.5,2.5], datum.value) >= 0 ? '' : format(datum.value, 'd')", "tickOpacity": {"condition": {"test": "indexof([-1.5,-0.5,0.5,1.5,2.5], datum.value) >= 0", "value": 0}, "value": 1}, "gridColor": {"condition": {"test": "indexof([-1.5,-0.5,0.5,1.5,2.5], datum.value) >= 0", "value": "#F2F2F2"}, "value": "#E3E3E3"}}},
        "y": {"field": "y", "type": "quantitative", "scale": {"domain": [-0.067, 1.73], "nice": false, "zero": false}, "axis": {"title": null, "values": [0, 0.25, 0.5, 0.75, 1, 1.25, 1.5], "labelFontSize": 8, "labelExpr": "indexof([0.25,0.75,1.25], datum.value) >= 0 ? '' : format(datum.value, '.1f')", "tickOpacity": {"condition": {"test": "indexof([0.25,0.75,1.25], datum.value) >= 0", "value": 0}, "value": 1}, "gridColor": {"condition": {"test": "indexof([0.25,0.75,1.25], datum.value) >= 0", "value": "#F2F2F2"}, "value": "#E3E3E3"}}},
        "color": {"field": "s", "type": "nominal", "scale": {"domain": ["1", "2", "3", "4", "5"], "range": ["#F8766D", "#A3A500", "#00BF7D", "#00B0F6", "#E76BF3"]}, "legend": {"title": "subjects:", "orient": "none", "legendX": 201, "legendY": -25, "direction": "horizontal", "titleOrient": "left", "titleFontSize": 12.5, "labelFontSize": 12.5, "symbolType": "M-0.8,-1L0.8,-1L0.8,1L-0.8,1ZM-0.8,1L0.8,-1", "symbolSize": 144, "symbolStrokeWidth": 1, "symbolFillColor": "transparent", "titlePadding": 5, "labelOffset": 2, "columnPadding": 10}},
        "detail": {"field": "c"}
      }}
   ], "spacing": 0},
   {"vconcat": [
     {"width": 135, "height": 14, "data": {"values": [{"label": "CD8"}]}, "mark": {"type": "text", "fontSize": 10.5, "baseline": "middle", "color": "#1A1A1A", "dy": 1}, "encoding": {"text": {"field": "label"}}, "view": {"fill": "#D0D0D0", "stroke": "#7F7F7F"}},
     {"width": 135, "height": 134, "data": {"name": "d8"}, "mark": {"type": "line", "interpolate": "monotone", "strokeWidth": 1.4, "clip": true},
      "encoding": {
        "x": {"field": "x", "type": "quantitative", "scale": {"domain": [-2.3, 4.33], "nice": false, "zero": false}, "axis": {"title": null, "values": [-2, -1, 0, 1, 2, 3, 4], "labelFontSize": 8, "labelExpr": "indexof([-1,1,3], datum.value) >= 0 ? '' : format(datum.value, 'd')", "tickOpacity": {"condition": {"test": "indexof([-1,1,3], datum.value) >= 0", "value": 0}, "value": 1}, "gridColor": {"condition": {"test": "indexof([-1,1,3], datum.value) >= 0", "value": "#F2F2F2"}, "value": "#E3E3E3"}}},
        "y": {"field": "y", "type": "quantitative", "scale": {"domain": [-0.06, 1.56], "nice": false, "zero": false}, "axis": {"title": null, "values": [0, 0.25, 0.5, 0.75, 1, 1.25, 1.5], "labelFontSize": 8, "labelExpr": "indexof([0.25,0.75,1.25], datum.value) >= 0 ? '' : format(datum.value, '.1f')", "tickOpacity": {"condition": {"test": "indexof([0.25,0.75,1.25], datum.value) >= 0", "value": 0}, "value": 1}, "gridColor": {"condition": {"test": "indexof([0.25,0.75,1.25], datum.value) >= 0", "value": "#F2F2F2"}, "value": "#E3E3E3"}}},
        "color": {"field": "s", "type": "nominal", "scale": {"domain": ["1", "2", "3", "4", "5"], "range": ["#F8766D", "#A3A500", "#00BF7D", "#00B0F6", "#E76BF3"]}, "legend": {"title": "subjects:", "orient": "none", "legendX": 201, "legendY": -25, "direction": "horizontal", "titleOrient": "left", "titleFontSize": 12.5, "labelFontSize": 12.5, "symbolType": "M-0.8,-1L0.8,-1L0.8,1L-0.8,1ZM-0.8,1L0.8,-1", "symbolSize": 144, "symbolStrokeWidth": 1, "symbolFillColor": "transparent", "titlePadding": 5, "labelOffset": 2, "columnPadding": 10}},
        "detail": {"field": "c"}
      }}
   ], "spacing": 0},
   {"vconcat": [
     {"width": 133, "height": 14, "data": {"values": [{"label": "CD19"}]}, "mark": {"type": "text", "fontSize": 10.5, "baseline": "middle", "color": "#1A1A1A", "dy": 1}, "encoding": {"text": {"field": "label"}}, "view": {"fill": "#D0D0D0", "stroke": "#7F7F7F"}},
     {"width": 133, "height": 134, "data": {"name": "d19"}, "mark": {"type": "line", "interpolate": "monotone", "strokeWidth": 1.4, "clip": true},
      "encoding": {
        "x": {"field": "x", "type": "quantitative", "scale": {"domain": [-1.15, 5.15], "nice": false, "zero": false}, "axis": {"title": null, "values": [-1, -0.5, 0, 0.5, 1, 1.5, 2, 2.5, 3, 3.5, 4, 4.5, 5], "labelFontSize": 8, "labelExpr": "indexof([-0.5,0.5,1.5,2.5,3.5,4.5], datum.value) >= 0 ? '' : format(datum.value, 'd')", "tickOpacity": {"condition": {"test": "indexof([-0.5,0.5,1.5,2.5,3.5,4.5], datum.value) >= 0", "value": 0}, "value": 1}, "gridColor": {"condition": {"test": "indexof([-0.5,0.5,1.5,2.5,3.5,4.5], datum.value) >= 0", "value": "#F2F2F2"}, "value": "#E3E3E3"}}},
        "y": {"field": "y", "type": "quantitative", "scale": {"domain": [-0.047, 1.24], "nice": false, "zero": false}, "axis": {"title": null, "values": [0, 0.15, 0.3, 0.45, 0.6, 0.75, 0.9, 1.05, 1.2], "labelFontSize": 8, "labelExpr": "indexof([0.15,0.45,0.75,1.05], datum.value) >= 0 ? '' : format(datum.value, '.1f')", "tickOpacity": {"condition": {"test": "indexof([0.15,0.45,0.75,1.05], datum.value) >= 0", "value": 0}, "value": 1}, "gridColor": {"condition": {"test": "indexof([0.15,0.45,0.75,1.05], datum.value) >= 0", "value": "#F2F2F2"}, "value": "#E3E3E3"}}},
        "color": {"field": "s", "type": "nominal", "scale": {"domain": ["1", "2", "3", "4", "5"], "range": ["#F8766D", "#A3A500", "#00BF7D", "#00B0F6", "#E76BF3"]}, "legend": {"title": "subjects:", "orient": "none", "legendX": 201, "legendY": -25, "direction": "horizontal", "titleOrient": "left", "titleFontSize": 12.5, "labelFontSize": 12.5, "symbolType": "M-0.8,-1L0.8,-1L0.8,1L-0.8,1ZM-0.8,1L0.8,-1", "symbolSize": 144, "symbolStrokeWidth": 1, "symbolFillColor": "transparent", "titlePadding": 5, "labelOffset": 2, "columnPadding": 10}},
        "detail": {"field": "c"}
      }}
   ], "spacing": 0}
  ],
  "spacing": 10,
  "title": {"text": "Transformed Fluorescence Intensity", "orient": "bottom", "anchor": "middle", "fontSize": 14, "offset": 9, "dx": 27}
 }
],
"spacing": 29,
"resolve": {"scale": {"color": "independent", "shape": "independent", "size": "independent"}, "legend": {"color": "independent", "shape": "independent"}}
}
